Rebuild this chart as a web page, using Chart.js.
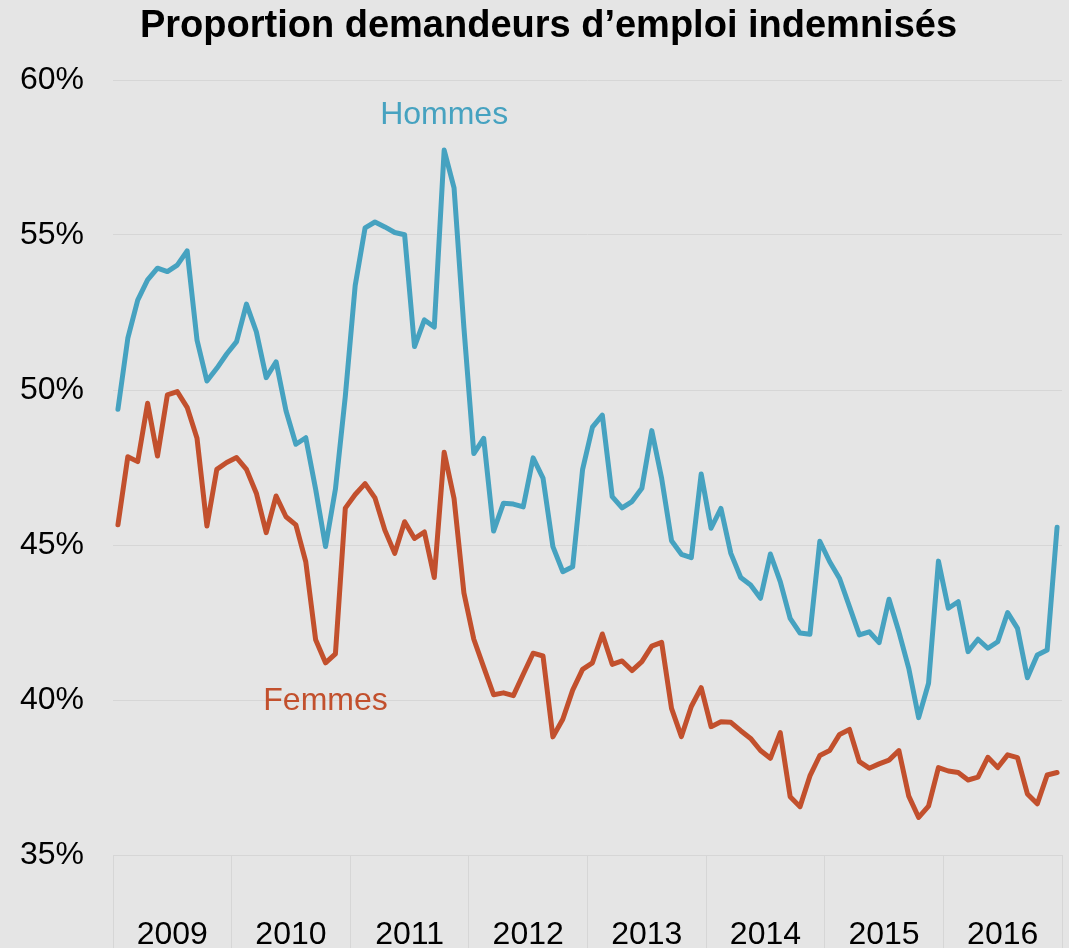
<!DOCTYPE html>
<html>
<head>
<meta charset="utf-8">
<script src="https://cdn.jsdelivr.net/npm/chart.js@4"></script>
<style>
  html, body { margin: 0; padding: 0; background: #e5e5e5; }
  canvas { display: block; }
</style>
</head>
<body>
<canvas id="chart" width="1069" height="948"></canvas>
<script>
// monthly values, Jan 2009 -> Dec 2016 (%)
const years = ["2009", "2010", "2011", "2012", "2013", "2014", "2015", "2016"];
const hommes = [
  49.38, 51.67, 52.90, 53.55, 53.93, 53.82, 54.03, 54.49, 51.61, 50.29, 50.70, 51.16,
  51.56, 52.77, 51.88, 50.40, 50.91, 49.33, 48.25, 48.46, 46.80, 44.95, 46.80, 49.80,
  53.37, 55.23, 55.42, 55.26, 55.08, 55.01, 51.40, 52.26, 52.03, 57.74, 56.52, 52.00,
  47.95, 48.44, 45.45, 46.35, 46.32, 46.23, 47.81, 47.16, 44.95, 44.14, 44.30, 47.43,
  48.80, 49.19, 46.56, 46.20, 46.40, 46.83, 48.69, 47.15, 45.14, 44.70, 44.59, 47.29,
  45.54, 46.18, 44.73, 43.95, 43.71, 43.28, 44.71, 43.82, 42.63, 42.16, 42.12, 45.12,
  44.46, 43.92, 43.01, 42.10, 42.20, 41.85, 43.25, 42.20, 41.02, 39.43, 40.54, 44.48,
  42.96, 43.17, 41.56, 41.96, 41.67, 41.88, 42.82, 42.31, 40.72, 41.45, 41.61, 45.57
];
const femmes = [
  45.65, 47.85, 47.69, 49.57, 47.87, 49.84, 49.95, 49.44, 48.44, 45.61, 47.44, 47.66,
  47.82, 47.44, 46.67, 45.40, 46.58, 45.91, 45.65, 44.46, 41.94, 41.20, 41.49, 46.19,
  46.63, 46.98, 46.52, 45.48, 44.73, 45.75, 45.21, 45.42, 43.95, 47.99, 46.50, 43.45,
  41.96, 41.06, 40.17, 40.23, 40.14, 40.83, 41.51, 41.42, 38.81, 39.38, 40.32, 40.99,
  41.20, 42.13, 41.15, 41.26, 40.95, 41.24, 41.74, 41.86, 39.73, 38.82, 39.79, 40.40,
  39.14, 39.30, 39.28, 39.01, 38.76, 38.37, 38.12, 38.95, 36.88, 36.56, 37.55, 38.21,
  38.37, 38.89, 39.05, 38.01, 37.80, 37.94, 38.06, 38.37, 36.90, 36.21, 36.58, 37.82,
  37.71, 37.66, 37.42, 37.51, 38.15, 37.82, 38.23, 38.14, 36.97, 36.65, 37.58, 37.66
];
const yTicks = [35, 40, 45, 50, 55, 60];

const blue = "#46a2c0";
const red = "#c2502d";
const font = '"Liberation Sans", Arial, sans-serif';

// series name labels, placed in data coordinates (month index, %)
const seriesLabels = [
  { text: "Hommes", x: 33, y: 58.85, color: blue },
  { text: "Femmes", x: 21, y: 39.95, color: red },
];

const toPoints = (arr) => arr.map((v, i) => ({ x: i, y: v }));

const seriesLabelPlugin = {
  id: "seriesLabels",
  // the y labels hang left of the (narrow) axis box; stop them being clipped
  afterLayout(chart) {
    chart.scales.y.left = 0;
  },
  afterDatasetsDraw(chart) {
    const { ctx, scales } = chart;
    ctx.save();
    ctx.font = "32px " + font;
    ctx.textAlign = "center";
    ctx.textBaseline = "middle";
    seriesLabels.forEach((l) => {
      ctx.fillStyle = l.color;
      ctx.fillText(l.text, scales.x.getPixelForValue(l.x), scales.y.getPixelForValue(l.y));
    });
    ctx.restore();
  },
};

new Chart(document.querySelector("#chart"), {
  type: "line",
  data: {
    datasets: [
      { label: "Hommes", data: toPoints(hommes), borderColor: blue },
      { label: "Femmes", data: toPoints(femmes), borderColor: red },
    ],
  },
  options: {
    responsive: false,
    animation: false,
    devicePixelRatio: 1,
    layout: { padding: { left: 35, right: 7, top: 0, bottom: 0 } },
    elements: {
      point: { radius: 0 },
      line: { borderWidth: 5, tension: 0, borderJoinStyle: "round", borderCapStyle: "round" },
    },
    plugins: {
      legend: { display: false },
      tooltip: { enabled: false },
      title: {
        display: true,
        text: "Proportion demandeurs d’emploi indemnisés",
        color: "#000",
        font: { family: font, size: 38, weight: "bold", lineHeight: 1.2 },
        padding: { top: 4, bottom: 30.4 },
      },
    },
    scales: {
      x: {
        type: "linear",
        min: -0.5,
        max: 95.5,
        afterBuildTicks: (scale) => {
          scale.ticks = years.map((y, i) => ({ value: i * 12 + 5.5 }));
        },
        afterFit: (scale) => {
          scale.height = 93;
        },
        ticks: {
          callback: (v, i) => years[i],
          color: "#000",
          font: { family: font, size: 32, lineHeight: 0.8 },
          padding: -25.6,
          maxRotation: 0,
          autoSkip: false,
        },
        grid: {
          offset: true,
          drawOnChartArea: false,
          drawTicks: true,
          tickLength: 93,
          color: "#d6d6d6",
          lineWidth: 1,
        },
        border: { display: false },
      },
      y: {
        min: 35,
        max: 60,
        afterBuildTicks: (scale) => {
          scale.ticks = yTicks.map((v) => ({ value: v }));
        },
        afterFit: (scale) => {
          scale.width = 78;
        },
        ticks: {
          callback: (v) => v + "%",
          color: "#000",
          font: { family: font, size: 32 },
          padding: 29,
        },
        grid: { color: "#d6d6d6", lineWidth: 1, drawTicks: false },
        border: { display: false },
      },
    },
  },
  plugins: [seriesLabelPlugin],
});
</script>
</body>
</html>
